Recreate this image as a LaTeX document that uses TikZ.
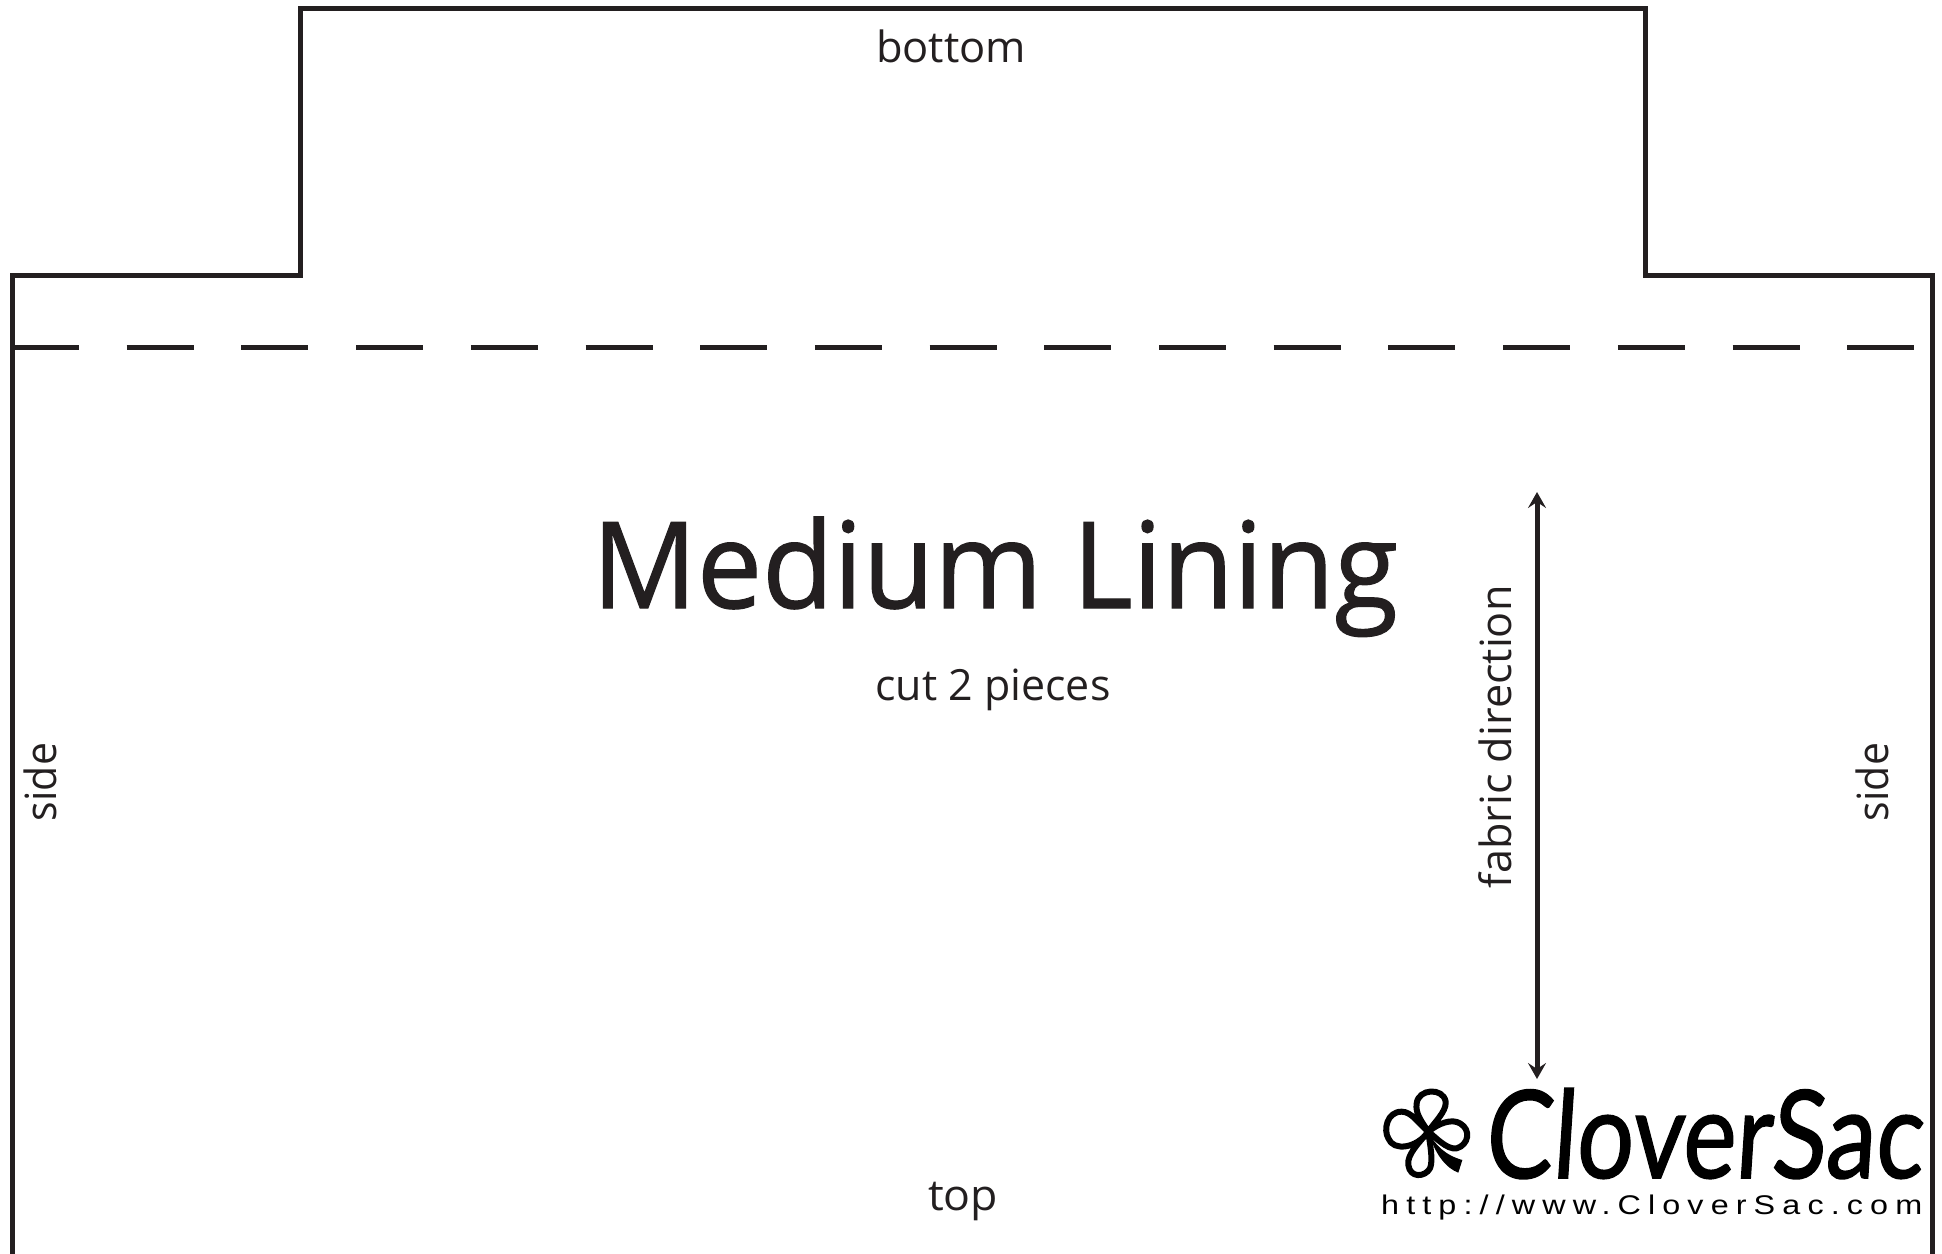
\documentclass[tikz,border=0pt]{standalone}
\usepackage{fontspec}
\usepackage{graphicx}
\setmainfont{Open Sans}
\newfontfamily\titlefont[FakeBold=1]{Open Sans}
\newfontfamily\logofont[FakeSlant=0.08,FakeBold=1.2]{Lato}
\newfontfamily\urlfont[LetterSpace=22]{Liberation Sans}
\definecolor{ink}{HTML}{231F20}
\newcommand{\fitw}[2]{\resizebox{#1pt}{\height}{#2}}
\usetikzlibrary{arrows.meta}
\tikzset{
  outline/.style={draw=ink,line width=5pt,line join=miter},
  fold/.style={draw=ink,line width=5pt,dash pattern=on 67pt off 47.7pt},
  grain/.style={draw=ink,line width=5pt,{Stealth[length=16pt,width=18pt,inset=6pt]}-{Stealth[length=16pt,width=18pt,inset=6pt]}},
  lab/.style={text=ink,inner sep=0pt,anchor=base,font=\fontsize{43}{50}\selectfont},
}
\begin{document}
\begin{tikzpicture}[x=1pt,y=-1pt]
\useasboundingbox (0,0) rectangle (1942,1253);
\coordinate (p0) at (12,1260);
\coordinate (p1) at (12,275);
\coordinate (p2) at (300,275);
\coordinate (p3) at (300,8);
\coordinate (p4) at (1645,8);
\coordinate (p5) at (1645,275);
\coordinate (p6) at (1932,275);
\coordinate (p7) at (1932,1260);
\draw[outline] (p0) -- (p1) -- (p2) -- (p3) -- (p4) -- (p5) -- (p6) -- (p7);
\coordinate (f0) at (12,347);
\coordinate (f1) at (1925,347);
\draw[fold] (f0) -- (f1);
\coordinate (g0) at (1537,492);
\coordinate (g1) at (1537,1079);
\draw[grain] (g0) -- (g1);
\node[lab] (bottom) at (951,62) {\fitw{150}{bottom}};
\node[lab] (top) at (963,1210) {\fitw{70}{top}};
\node[lab,font=\titlefont\fontsize{120}{140}\selectfont] (title) at (995,608) {\fitw{806}{Medium Lining}};
\node[lab] (cut) at (993,700) {\fitw{235}{cut 2 pieces}};
\node[lab,rotate=90] (sl) at (56,782) {\fitw{78}{side}};
\node[lab,rotate=90] (sr) at (1888,782) {\fitw{78}{side}};
\node[lab,rotate=90] (fd) at (1511,737) {\fitw{303}{fabric direction}};
\begin{scope}[shift={(1375,1080)},x=1pt/3,y=-1pt/3]
\path[draw=black,line width=6pt,line join=round,line cap=round]
 (160,155) .. controls (140,125) and (120,100) .. (125,70)
 .. controls (130,25) and (205,22) .. (212,65)
 .. controls (215,95) and (175,130) .. (160,155)
 .. controls (130,130) and (110,95) .. (80,95)
 .. controls (35,95) and (25,150) .. (40,175)
 .. controls (55,215) and (125,205) .. (160,155)
 .. controls (190,130) and (230,115) .. (255,130)
 .. controls (290,150) and (280,195) .. (245,205)
 .. controls (215,210) and (180,170) .. (160,155)
 .. controls (130,190) and (95,225) .. (100,255)
 .. controls (105,295) and (150,292) .. (165,265)
 .. controls (175,240) and (165,195) .. (160,155);
\path[fill=black] (160,155) .. controls (180,195) and (210,225) .. (262,240)
 -- (250,278) .. controls (215,265) and (180,225) .. (160,155) -- cycle;
\end{scope}
\node[inner sep=0pt,anchor=base west,font=\logofont\fontsize{118}{130}\selectfont] (logo) at (1484,1178) {\resizebox{438pt}{90pt}{CloverSac}};
\node[inner sep=0pt,anchor=base west,font=\urlfont\fontsize{27}{30}\selectfont] (url) at (1381,1214) {\fitw{541}{http://www.CloverSac.com}};
\end{tikzpicture}
\end{document}
